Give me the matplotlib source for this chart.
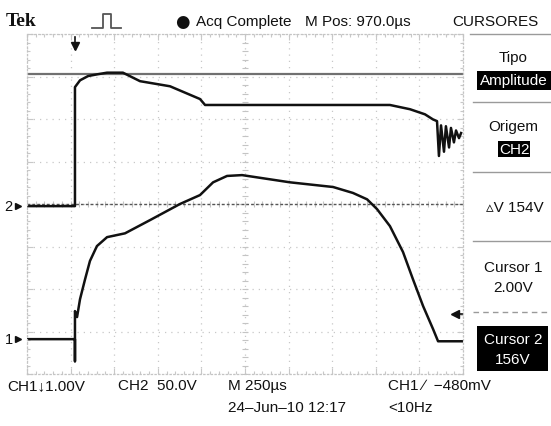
import matplotlib
matplotlib.use('Agg')
import numpy as np
import matplotlib.pyplot as plt
from matplotlib.lines import Line2D
from matplotlib.patches import Rectangle

# scope settings (screen is 10 x 8 divisions)
t_div = 250.0      # us / div
ch1_vdiv = 1.0     # V / div
ch2_vdiv = 50.0    # V / div
ch1_gnd = -3.18    # ground marker position, div
ch2_gnd = -0.05
cursor1 = 2.0      # V (CH2)
cursor2 = 156.0    # V (CH2)
trig_pos = 275.0   # us from left edge
trig_mark = -2.59  # div

# CH2 trace (us, V)
ch2_t = [0, 275, 275, 304, 350, 401, 459, 550, 648, 820, 992, 1021, 2081, 2196, 2282, 2328,
         2351, 2362, 2374, 2391, 2402, 2420, 2431, 2448, 2460, 2477, 2489]
ch2_v = [0, 0, 140, 148, 153, 155, 157, 157, 147, 141, 126, 119, 119, 114, 108, 102,
         100, 59, 95, 64, 94, 69, 92, 75, 89, 80, 86]

# CH1 trace (us, V)
ch1_t = [0, 275, 275, 275, 287, 304, 333, 361, 401, 459, 562, 705, 877, 992, 1067, 1147, 1233,
         1508, 1755, 1869, 1950, 2007, 2081, 2156, 2213, 2271, 2328, 2357, 2500]
ch1_v = [0, 0, -0.52, 0.66, 0.52, 0.94, 1.41, 1.84, 2.19, 2.40, 2.49, 2.80, 3.18, 3.39, 3.69,
         3.84, 3.86, 3.69, 3.58, 3.44, 3.29, 3.06, 2.66, 2.05, 1.41, 0.78, 0.24, -0.05, -0.05]

W, H = 551, 427
fnt = ['Liberation Sans', 'DejaVu Sans']
ink = '#111111'

fig = plt.figure(figsize=(W / 100, H / 100), dpi=100)
fig.patch.set_facecolor('white')

def fx(x):
    return x / W

def fy(y):
    return 1 - y / H

def ftext(x, y, s, **kw):
    kw.setdefault('family', fnt)
    kw.setdefault('fontsize', 11)
    kw.setdefault('color', ink)
    kw.setdefault('va', 'center')
    fig.text(fx(x), fy(y), s, **kw)

ax = fig.add_axes([fx(27), fy(375), 436 / W, 340 / H])
ax.set_xlim(0, 10 * t_div)
ax.set_ylim(-4, 4)
ax.set_xticks(np.arange(0, 10 * t_div + 1, t_div))
ax.set_yticks(np.arange(-4, 5, 1))
ax.set_xticks(np.arange(0, 10 * t_div + 1, t_div / 5), minor=True)
ax.set_yticks(np.arange(-4, 4.01, 0.2), minor=True)
ax.tick_params(which='both', direction='in', top=True, right=True, labelbottom=False,
               labelleft=False, color='#c8c8c8', width=0.8)
ax.tick_params(which='major', length=4)
ax.tick_params(which='minor', length=2.5)
ax.grid(True, which='major', color='#c8c8c8', linestyle=(0, (1, 4)), linewidth=0.9)
for s in ax.spines.values():
    s.set_color('#c4c4c4')
    s.set_linestyle((0, (1, 2)))
    s.set_linewidth(0.9)

# centre cross minor ticks
ym = np.arange(-4, 4.01, 0.2)
ax.plot(np.full(len(ym), 5 * t_div), ym, ls='none', marker='_', ms=4, mew=0.8, color='#c4c4c4')
xm = np.arange(0, 10 * t_div + 1, t_div / 5)
ax.plot(xm, np.zeros(len(xm)), ls='none', marker='|', ms=4, mew=0.8, color='#c4c4c4')

# cursors
ax.axhline(cursor2 / ch2_vdiv + ch2_gnd, color='#707070', lw=1.6)
ax.axhline(cursor1 / ch2_vdiv + ch2_gnd, color='#555555', lw=1.0, ls=(0, (2, 1.5)))

# traces
ax.plot(ch1_t, np.array(ch1_v) / ch1_vdiv + ch1_gnd, color=ink, lw=1.8)
ax.plot(ch2_t, np.array(ch2_v) / ch2_vdiv + ch2_gnd, color=ink, lw=1.8)

# markers on screen
xt = ax.get_xaxis_transform()
ax.plot([trig_pos, trig_pos], [0.955, 0.99], transform=xt, color=ink, lw=1.2, clip_on=False)
ax.plot([trig_pos], [0.965], transform=xt, marker='v', ms=5.5, color=ink, clip_on=False)
yt = ax.get_yaxis_transform()
ax.plot([0.982], [trig_mark], transform=yt, marker='<', ms=5.5, color=ink, clip_on=False)
ax.plot([0.982, 1.0], [trig_mark, trig_mark], transform=yt, color=ink, lw=1.2, clip_on=False)
for lab, lev in [('2', ch2_gnd), ('1', ch1_gnd)]:
    ax.text(-0.042, lev, lab, transform=yt, ha='center', va='center', family=fnt,
            fontsize=10.5, color=ink)
    ax.plot([-0.02], [lev], transform=yt, marker='>', ms=5, color=ink, clip_on=False)

# header
ftext(6, 21, 'Tek', family=['Liberation Serif', 'DejaVu Serif'], fontweight='bold', fontsize=14)
fig.add_artist(Line2D([fx(92), fx(103), fx(103), fx(111), fx(111), fx(121)],
                      [fy(29), fy(29), fy(15), fy(15), fy(29), fy(29)],
                      transform=fig.transFigure, color='#555555', lw=1.3))
ftext(182, 22, '\u25cf', family='DejaVu Sans', fontsize=12, ha='center')
ftext(196, 22, 'Acq Complete')
ftext(305, 22, 'M Pos: 970.0\u00b5s')
ftext(452, 22, 'CURSORES')

# side panel
def hline(y, x0=473, **kw):
    fig.add_artist(Line2D([fx(x0), fx(551)], [fy(y), fy(y)], transform=fig.transFigure,
                          color=kw.get('color', '#9a9a9a'), lw=1.0, ls=kw.get('ls', '-')))

def box(x0, y0, x1, y1):
    fig.add_artist(Rectangle((fx(x0), fy(y1)), fx(x1) - fx(x0), fy(y0) - fy(y1),
                             transform=fig.transFigure, facecolor='black', edgecolor='none'))

hline(35, 470)
hline(103)
hline(173)
hline(242)
hline(313, ls=(0, (4, 3)))
cx = 513
ftext(cx, 58, 'Tipo', ha='center')
box(477, 72, 551, 91)
ftext(cx + 1, 81, 'Amplitude', ha='center', color='white')
ftext(cx, 127, 'Origem', ha='center')
box(498, 142, 530, 158)
ftext(514, 150, 'CH2', ha='center', color='white')
ftext(cx + 2, 208, '\u25b5V 154V', ha='center')
ftext(cx, 268, 'Cursor 1', ha='center')
ftext(cx, 288, '2.00V', ha='center')
box(477, 327, 548, 372)
ftext(cx, 340, 'Cursor 2', ha='center', color='white')
ftext(cx, 360, '156V', ha='center', color='white')

# footer
ftext(7, 386, 'CH1\u2193' + '1.00V')
ftext(118, 386, 'CH2  50.0V')
ftext(228, 386, 'M 250\u00b5s')
ftext(228, 408, '24\u2013Jun\u201310 12:17')
ftext(388, 386, 'CH1 \u2215  \u2212480mV')
ftext(388, 408, '<10Hz')

fig.savefig('out.png', dpi=100, facecolor='white')
